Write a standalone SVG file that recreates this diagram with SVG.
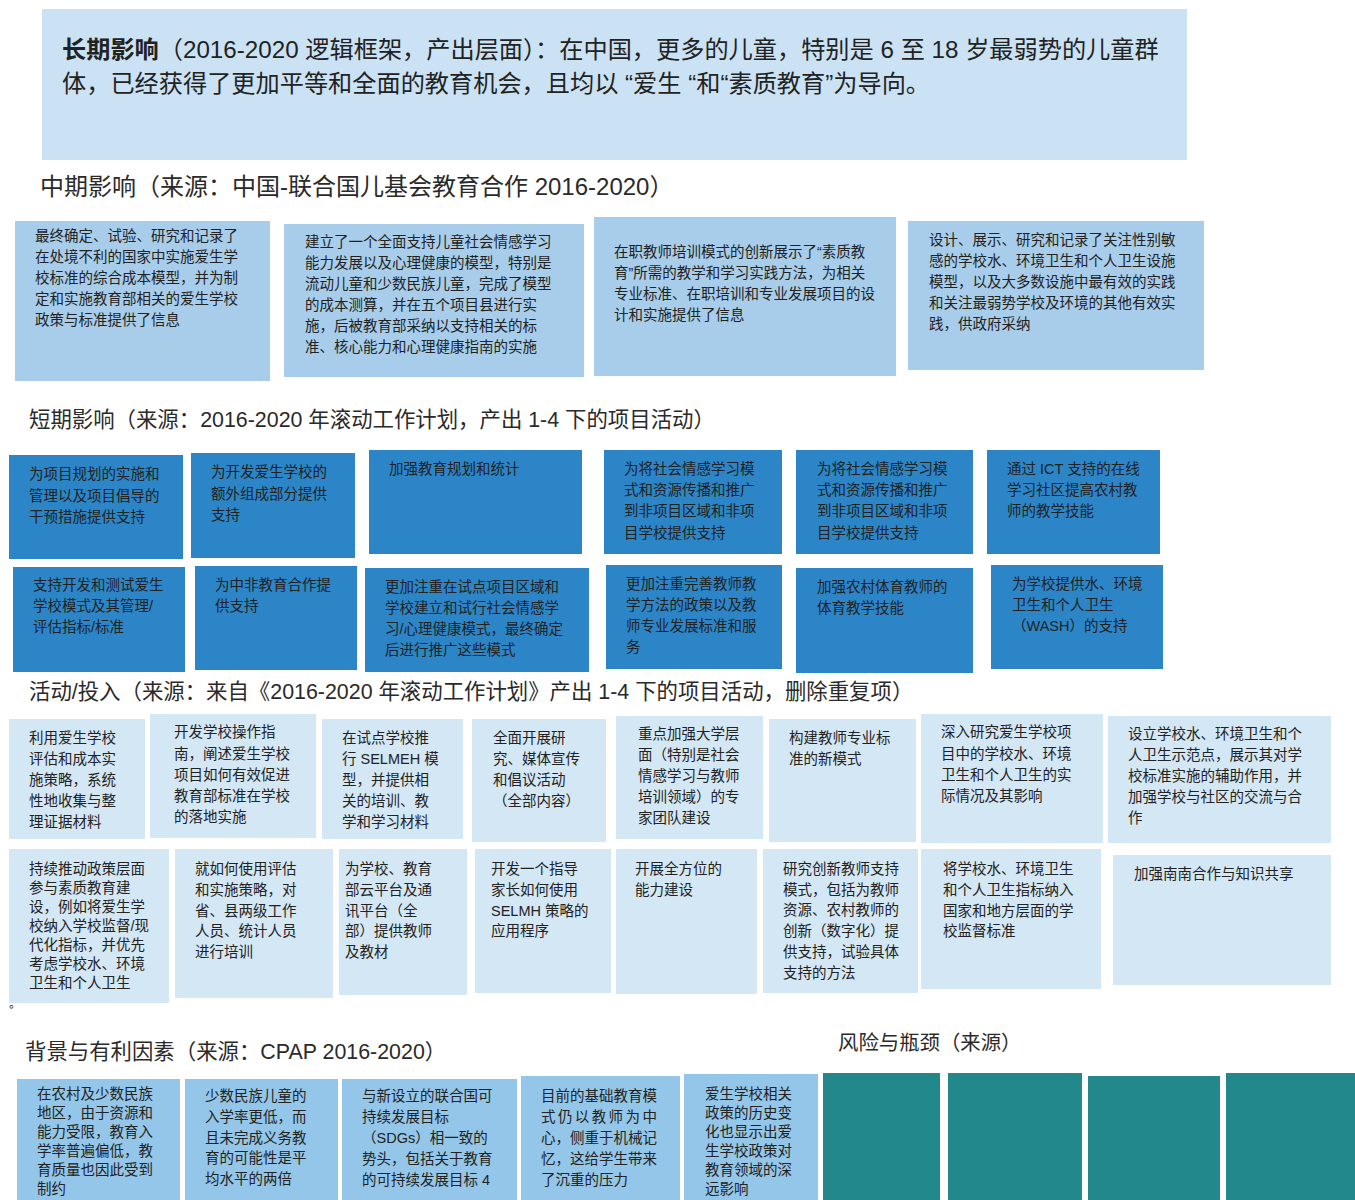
<svg xmlns="http://www.w3.org/2000/svg" width="1355" height="1200" viewBox="0 0 1355 1200">
<style>
text{font-family:"Liberation Sans","Noto Sans CJK SC",sans-serif;fill:#222;}
.t{font-size:14.5px;}
.h{font-size:21.4px;fill:#2a2a2a;}
.lt{fill:#cae2f4;}
.mid{fill:#a7cdea;}
.st{fill:#2b85c7;}
.act{fill:#d4e7f5;}
.bg{fill:#93c6e8;}
.teal{fill:#23888c;}
</style>
<rect x="0" y="0" width="1355" height="1200" fill="#ffffff"/>

<g id="long-term">
<rect class="lt" x="42" y="9" width="1145" height="151"/>
<text x="62" y="58" font-size="24.2"><tspan font-weight="bold">长期影响</tspan>（2016-2020 逻辑框架，产出层面）：在中国，更多的儿童，特别是 6 至 18 岁最弱势的儿童群</text>
<text x="62" y="92" font-size="24.2">体，已经获得了更加平等和全面的教育机会，且均以 “爱生 “和“素质教育”为导向。</text>
</g>

<g id="mid-heading"><text class="h" x="40" y="195" style="font-size:24px">中期影响（来源：中国-联合国儿基会教育合作 2016-2020）</text></g>

<g id="mid-1">
<rect class="mid" x="15" y="221" width="255" height="160"/>
<text class="t"><tspan x="35" y="241">最终确定、试验、研究和记录了</tspan><tspan x="35" y="262">在处境不利的国家中实施爱生学</tspan><tspan x="35" y="283">校标准的综合成本模型，并为制</tspan><tspan x="35" y="304">定和实施教育部相关的爱生学校</tspan><tspan x="35" y="325">政策与标准提供了信息</tspan></text>
</g>
<g id="mid-2">
<rect class="mid" x="284" y="224" width="300" height="153"/>
<text class="t"><tspan x="305" y="247">建立了一个全面支持儿童社会情感学习</tspan><tspan x="305" y="268">能力发展以及心理健康的模型，特别是</tspan><tspan x="305" y="289">流动儿童和少数民族儿童，完成了模型</tspan><tspan x="305" y="310">的成本测算，并在五个项目县进行实</tspan><tspan x="305" y="331">施，后被教育部采纳以支持相关的标</tspan><tspan x="305" y="352">准、核心能力和心理健康指南的实施</tspan></text>
</g>
<g id="mid-3">
<rect class="mid" x="594" y="217" width="302" height="159"/>
<text class="t"><tspan x="614" y="257">在职教师培训模式的创新展示了“素质教</tspan><tspan x="614" y="278">育”所需的教学和学习实践方法，为相关</tspan><tspan x="614" y="299">专业标准、在职培训和专业发展项目的设</tspan><tspan x="614" y="320">计和实施提供了信息</tspan></text>
</g>
<g id="mid-4">
<rect class="mid" x="908" y="221" width="296" height="149"/>
<text class="t"><tspan x="929" y="245">设计、展示、研究和记录了关注性别敏</tspan><tspan x="929" y="266">感的学校水、环境卫生和个人卫生设施</tspan><tspan x="929" y="287">模型，以及大多数设施中最有效的实践</tspan><tspan x="929" y="308">和关注最弱势学校及环境的其他有效实</tspan><tspan x="929" y="329">践，供政府采纳</tspan></text>
</g>

<g id="short-heading"><text class="h" x="29" y="427">短期影响（来源：2016-2020 年滚动工作计划，产出 1-4 下的项目活动）</text></g>

<g id="st-1"><rect class="st" x="9" y="455" width="174" height="104"/>
<text class="t"><tspan x="29" y="479">为项目规划的实施和</tspan><tspan x="29" y="501">管理以及项目倡导的</tspan><tspan x="29" y="522">干预措施提供支持</tspan></text></g>
<g id="st-2"><rect class="st" x="191" y="453" width="164" height="105"/>
<text class="t"><tspan x="211" y="477">为开发爱生学校的</tspan><tspan x="211" y="499">额外组成部分提供</tspan><tspan x="211" y="520">支持</tspan></text></g>
<g id="st-3"><rect class="st" x="369" y="450" width="213" height="104"/>
<text class="t"><tspan x="389" y="474">加强教育规划和统计</tspan></text></g>
<g id="st-4"><rect class="st" x="604" y="450" width="178" height="104"/>
<text class="t"><tspan x="624" y="474">为将社会情感学习模</tspan><tspan x="624" y="495">式和资源传播和推广</tspan><tspan x="624" y="516">到非项目区域和非项</tspan><tspan x="624" y="538">目学校提供支持</tspan></text></g>
<g id="st-5"><rect class="st" x="796" y="450" width="177" height="104"/>
<text class="t"><tspan x="817" y="474">为将社会情感学习模</tspan><tspan x="817" y="495">式和资源传播和推广</tspan><tspan x="817" y="516">到非项目区域和非项</tspan><tspan x="817" y="538">目学校提供支持</tspan></text></g>
<g id="st-6"><rect class="st" x="987" y="450" width="173" height="104"/>
<text class="t"><tspan x="1007" y="474">通过 ICT 支持的在线</tspan><tspan x="1007" y="495">学习社区提高农村教</tspan><tspan x="1007" y="516">师的教学技能</tspan></text></g>
<g id="st-7"><rect class="st" x="13" y="567" width="172" height="105"/>
<text class="t"><tspan x="33" y="590">支持开发和测试爱生</tspan><tspan x="33" y="611">学校模式及其管理/</tspan><tspan x="33" y="632">评估指标/标准</tspan></text></g>
<g id="st-8"><rect class="st" x="195" y="566" width="162" height="104"/>
<text class="t"><tspan x="215" y="590">为中非教育合作提</tspan><tspan x="215" y="611">供支持</tspan></text></g>
<g id="st-9"><rect class="st" x="365" y="568" width="224" height="104"/>
<text class="t"><tspan x="385" y="592">更加注重在试点项目区域和</tspan><tspan x="385" y="613">学校建立和试行社会情感学</tspan><tspan x="385" y="634">习/心理健康模式，最终确定</tspan><tspan x="385" y="655">后进行推广这些模式</tspan></text></g>
<g id="st-10"><rect class="st" x="606" y="565" width="176" height="104"/>
<text class="t"><tspan x="626" y="589">更加注重完善教师教</tspan><tspan x="626" y="610">学方法的政策以及教</tspan><tspan x="626" y="631">师专业发展标准和服</tspan><tspan x="626" y="652">务</tspan></text></g>
<g id="st-11"><rect class="st" x="796" y="568" width="177" height="105"/>
<text class="t"><tspan x="817" y="592">加强农村体育教师的</tspan><tspan x="817" y="613">体育教学技能</tspan></text></g>
<g id="st-12"><rect class="st" x="991" y="565" width="172" height="104"/>
<text class="t"><tspan x="1012" y="589">为学校提供水、环境</tspan><tspan x="1012" y="610">卫生和个人卫生</tspan><tspan x="1012" y="631">（WASH）的支持</tspan></text></g>

<g id="act-heading"><text class="h" x="29" y="699" style="font-size:21.4px">活动/投入（来源：来自《2016-2020 年滚动工作计划》产出 1-4 下的项目活动，删除重复项）</text></g>

<g id="act-1"><rect class="act" x="9" y="719" width="136" height="120"/>
<text class="t"><tspan x="29" y="743">利用爱生学校</tspan><tspan x="29" y="764">评估和成本实</tspan><tspan x="29" y="785">施策略，系统</tspan><tspan x="29" y="806">性地收集与整</tspan><tspan x="29" y="827">理证据材料</tspan></text></g>
<g id="act-2"><rect class="act" x="150" y="714" width="166" height="124"/>
<text class="t"><tspan x="174" y="737">开发学校操作指</tspan><tspan x="174" y="759">南，阐述爱生学校</tspan><tspan x="174" y="780">项目如何有效促进</tspan><tspan x="174" y="801">教育部标准在学校</tspan><tspan x="174" y="822">的落地实施</tspan></text></g>
<g id="act-3"><rect class="act" x="322" y="719" width="141" height="120"/>
<text class="t"><tspan x="342" y="743">在试点学校推</tspan><tspan x="342" y="764">行 SELMEH 模</tspan><tspan x="342" y="785">型，并提供相</tspan><tspan x="342" y="806">关的培训、教</tspan><tspan x="342" y="827">学和学习材料</tspan></text></g>
<g id="act-4"><rect class="act" x="472" y="719" width="134" height="123"/>
<text class="t"><tspan x="493" y="743">全面开展研</tspan><tspan x="493" y="764">究、媒体宣传</tspan><tspan x="493" y="785">和倡议活动</tspan><tspan x="493" y="806">（全部内容）</tspan></text></g>
<g id="act-5"><rect class="act" x="616" y="716" width="147" height="123"/>
<text class="t"><tspan x="638" y="739">重点加强大学层</tspan><tspan x="638" y="760">面（特别是社会</tspan><tspan x="638" y="781">情感学习与教师</tspan><tspan x="638" y="802">培训领域）的专</tspan><tspan x="638" y="823">家团队建设</tspan></text></g>
<g id="act-6"><rect class="act" x="769" y="719" width="147" height="123"/>
<text class="t"><tspan x="789" y="743">构建教师专业标</tspan><tspan x="789" y="764">准的新模式</tspan></text></g>
<g id="act-7"><rect class="act" x="921" y="714" width="182" height="129"/>
<text class="t"><tspan x="941" y="737">深入研究爱生学校项</tspan><tspan x="941" y="759">目中的学校水、环境</tspan><tspan x="941" y="780">卫生和个人卫生的实</tspan><tspan x="941" y="801">际情况及其影响</tspan></text></g>
<g id="act-8"><rect class="act" x="1108" y="716" width="223" height="127"/>
<text class="t"><tspan x="1128" y="739">设立学校水、环境卫生和个</tspan><tspan x="1128" y="760">人卫生示范点，展示其对学</tspan><tspan x="1128" y="781">校标准实施的辅助作用，并</tspan><tspan x="1128" y="802">加强学校与社区的交流与合</tspan><tspan x="1128" y="823">作</tspan></text></g>
<g id="act-9"><rect class="act" x="9" y="849" width="160" height="154"/>
<text class="t"><tspan x="29" y="874">持续推动政策层面</tspan><tspan x="29" y="893">参与素质教育建</tspan><tspan x="29" y="912">设，例如将爱生学</tspan><tspan x="29" y="931">校纳入学校监督/现</tspan><tspan x="29" y="950">代化指标，并优先</tspan><tspan x="29" y="969">考虑学校水、环境</tspan><tspan x="29" y="988">卫生和个人卫生</tspan></text></g>
<g id="act-10"><rect class="act" x="175" y="849" width="158" height="149"/>
<text class="t"><tspan x="195" y="874">就如何使用评估</tspan><tspan x="195" y="895">和实施策略，对</tspan><tspan x="195" y="916">省、县两级工作</tspan><tspan x="195" y="936">人员、统计人员</tspan><tspan x="195" y="957">进行培训</tspan></text></g>
<g id="act-11"><rect class="act" x="339" y="849" width="128" height="146"/>
<text class="t"><tspan x="345" y="874">为学校、教育</tspan><tspan x="345" y="895">部云平台及通</tspan><tspan x="345" y="916">讯平台（全</tspan><tspan x="345" y="936">部）提供教师</tspan><tspan x="345" y="957">及教材</tspan></text></g>
<g id="act-12"><rect class="act" x="475" y="849" width="136" height="144"/>
<text class="t"><tspan x="491" y="874">开发一个指导</tspan><tspan x="491" y="895">家长如何使用</tspan><tspan x="491" y="916">SELMH 策略的</tspan><tspan x="491" y="936">应用程序</tspan></text></g>
<g id="act-13"><rect class="act" x="616" y="849" width="141" height="145"/>
<text class="t"><tspan x="635" y="874">开展全方位的</tspan><tspan x="635" y="895">能力建设</tspan></text></g>
<g id="act-14"><rect class="act" x="763" y="849" width="155" height="144"/>
<text class="t"><tspan x="783" y="874">研究创新教师支持</tspan><tspan x="783" y="895">模式，包括为教师</tspan><tspan x="783" y="915">资源、农村教师的</tspan><tspan x="783" y="936">创新（数字化）提</tspan><tspan x="783" y="957">供支持，试验具体</tspan><tspan x="783" y="978">支持的方法</tspan></text></g>
<g id="act-15"><rect class="act" x="921" y="849" width="180" height="140"/>
<text class="t"><tspan x="943" y="874">将学校水、环境卫生</tspan><tspan x="943" y="895">和个人卫生指标纳入</tspan><tspan x="943" y="916">国家和地方层面的学</tspan><tspan x="943" y="936">校监督标准</tspan></text></g>
<g id="act-16"><rect class="act" x="1113" y="855" width="218" height="130"/>
<text class="t"><tspan x="1134" y="879">加强南南合作与知识共享</tspan></text></g>
<text x="9" y="1008" font-size="12">。</text>

<g id="bg-heading"><text class="h" x="25" y="1059">背景与有利因素（来源：CPAP 2016-2020）</text></g>
<g id="risk-heading"><text class="h" x="838" y="1050" style="font-size:20.4px">风险与瓶颈（来源）</text></g>

<g id="bg-1"><rect class="bg" x="17" y="1079" width="163" height="121"/>
<text class="t"><tspan x="37" y="1099">在农村及少数民族</tspan><tspan x="37" y="1118">地区，由于资源和</tspan><tspan x="37" y="1137">能力受限，教育入</tspan><tspan x="37" y="1156">学率普遍偏低，教</tspan><tspan x="37" y="1175">育质量也因此受到</tspan><tspan x="37" y="1194">制约</tspan></text></g>
<g id="bg-2"><rect class="bg" x="185" y="1079" width="153" height="121"/>
<text class="t"><tspan x="205" y="1101">少数民族儿童的</tspan><tspan x="205" y="1122">入学率更低，而</tspan><tspan x="205" y="1143">且未完成义务教</tspan><tspan x="205" y="1163">育的可能性是平</tspan><tspan x="205" y="1184">均水平的两倍</tspan></text></g>
<g id="bg-3"><rect class="bg" x="342" y="1079" width="175" height="121"/>
<text class="t"><tspan x="362" y="1101">与新设立的联合国可</tspan><tspan x="362" y="1122">持续发展目标</tspan><tspan x="362" y="1143">（SDGs）相一致的</tspan><tspan x="362" y="1164">势头，包括关于教育</tspan><tspan x="362" y="1185">的可持续发展目标 4</tspan></text></g>
<g id="bg-4"><rect class="bg" x="521" y="1076" width="159" height="124"/>
<text class="t"><tspan x="541" y="1101">目前的基础教育模</tspan><tspan x="541" y="1122" letter-spacing="2.4">式仍以教师为中</tspan><tspan x="541" y="1143">心，侧重于机械记</tspan><tspan x="541" y="1164">忆，这给学生带来</tspan><tspan x="541" y="1185">了沉重的压力</tspan></text></g>
<g id="bg-5"><rect class="bg" x="684" y="1074" width="134" height="126"/>
<text class="t"><tspan x="705" y="1099">爱生学校相关</tspan><tspan x="705" y="1118">政策的历史变</tspan><tspan x="705" y="1137">化也显示出爱</tspan><tspan x="705" y="1156">生学校政策对</tspan><tspan x="705" y="1175">教育领域的深</tspan><tspan x="705" y="1194">远影响</tspan></text></g>

<g id="risk-1"><rect class="teal" x="823" y="1073" width="117" height="127"/></g>
<g id="risk-2"><rect class="teal" x="948" y="1073" width="134" height="127"/></g>
<g id="risk-3"><rect class="teal" x="1088" y="1076" width="132" height="124"/></g>
<g id="risk-4"><rect class="teal" x="1226" y="1073" width="129" height="127"/></g>

<g id="connectors"></g>
</svg>
